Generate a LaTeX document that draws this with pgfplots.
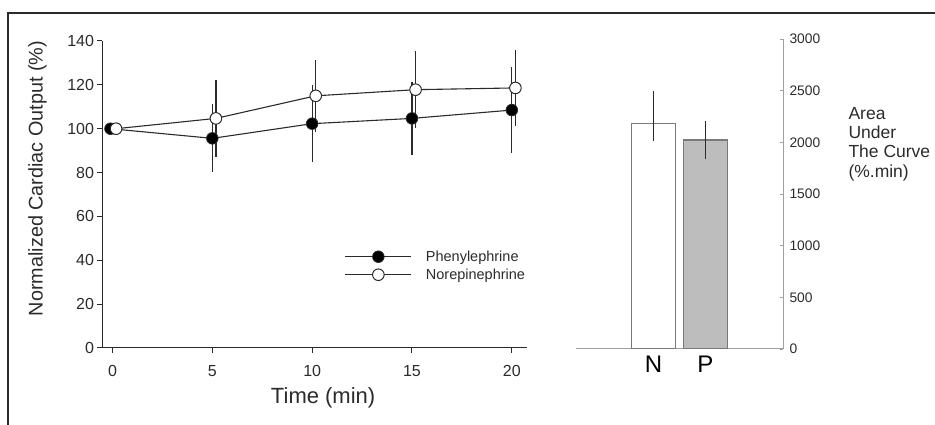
\documentclass[border=0pt]{standalone}
\usepackage{fontspec}
\setmainfont{Liberation Sans}
\usepackage{pgfplots}
\usepackage{pgfplotstable}
\pgfplotsset{compat=1.18}

\definecolor{ln}{HTML}{2B2B2B}
\definecolor{barfill}{HTML}{BDBDBD}
\definecolor{baredge}{HTML}{7A7A7A}
\definecolor{axgray}{HTML}{A0A0A0}

\pgfplotstableread{
x y e
-0.1 100 0
5 95.6 15.5
10 102.3 17.5
15 104.7 16.5
20 108.5 19.5
}\phen
\pgfplotstableread{
x y e
0.18 100 0
5.18 104.7 17.6
10.18 115 16.4
15.18 117.8 17.5
20.18 118.6 17.5
}\nor
\pgfplotstableread{
x y ep em
1 2180 315 165
}\aucN
\pgfplotstableread{
x y ep em
2 2023 187 187
}\aucP

\begin{document}
\begin{tikzpicture}
\path[use as bounding box] (0,0) rectangle (935pt,425pt);
\draw[line width=2pt, color=ln] (935pt,411.7pt) -- (7.9pt,411.7pt) -- (7.9pt,0pt);

\begin{axis}[
 at={(102.5pt,77pt)}, anchor=south west,
 scale only axis, width=424.3pt, height=307pt,
 xmin=-0.5, xmax=20.75, ymin=0, ymax=140,
 axis lines=left, axis line style={-, color=ln, line width=1pt},
 xtick={0,5,10,15,20}, ytick={0,20,...,140},
 tick align=outside, major tick length=5pt,
 tick style={color=ln, line width=1pt},
 /pgf/number format/assume math mode=true,
 ticklabel style={font=\fontsize{16}{19}\selectfont, color=ln},
 xticklabel style={yshift=-9pt},
 xlabel={Time (min)}, ylabel={Normalized Cardiac Output (\%)},
 xlabel style={font=\fontsize{22}{26}\selectfont, color=ln, at={(axis description cs:0.52,-0.163)}, anchor=center},
 ylabel style={font=\fontsize{19.8}{23}\selectfont, color=ln, at={(axis description cs:-0.153,0.552)}, anchor=center},
 legend style={at={(axis description cs:0.5706,0.268)}, anchor=west, draw=none, fill=none,
   nodes={font=\fontsize{14.5}{17}\selectfont, text=ln},
   row sep=2pt, inner sep=0pt, cells={anchor=west},
   /tikz/every odd column/.append style={column sep=12pt}},
 legend image code/.code={\draw[mark repeat=2,mark phase=2,#1] plot coordinates {(0pt,0pt) (33pt,0pt) (66pt,0pt)};},
]
\addplot[color=ln, line width=1.1pt, mark=*, mark size=5.8pt,
  mark options={fill=black, draw=ln, line width=0.8pt, solid},
  error bars/.cd, y dir=both, y explicit, error mark=none,
  error bar style={line width=1.2pt, solid, color=ln}]
  table[x=x, y=y, y error=e]{\phen};
\addlegendentry{\fontsize{14.5}{17}\selectfont Phenylephrine}
\addplot[color=ln, line width=1.1pt, mark=*, mark size=5.8pt,
  mark options={fill=white, draw=ln, line width=1pt, solid},
  error bars/.cd, y dir=both, y explicit, error mark=none,
  error bar style={line width=1.2pt, solid, color=ln}]
  table[x=x, y=y, y error=e]{\nor};
\addlegendentry{\fontsize{14.5}{17}\selectfont Norepinephrine}
\end{axis}

\begin{axis}[
 at={(576pt,76pt)}, anchor=south west,
 scale only axis, width=207pt, height=310pt,
 xmin=-0.5, xmax=3.5, ymin=0, ymax=3000,
 axis y line=right, axis x line=bottom,
 axis line style={-, color=axgray, line width=1pt},
 xtick={1,2}, xticklabels={N,P},
 x tick style={draw=none},
 ytick={0,500,...,3000},
 tick align=inside, major tick length=3pt,
 y tick style={color=axgray, line width=0.8pt},
 /pgf/number format/assume math mode=true,
 /pgf/number format/1000 sep={},
 yticklabel style={font=\fontsize{13.8}{16}\selectfont, color=ln, xshift=3pt},
 xticklabel style={font=\fontsize{24}{28}\selectfont, color=black, yshift=-3pt},
 ylabel={Area\\Under\\The Curve\\(\%.min)},
 ylabel style={rotate=-90, at={(axis description cs:1.2995,0.661)}, anchor=west, align=left,
   font=\fontsize{17.5}{19.4}\selectfont, color=ln},
]
\addplot[ybar, bar width=44.5pt, bar shift=0pt, fill=white, draw=baredge, line width=1.2pt,
  error bars/.cd, y dir=both, y explicit, error mark=none,
  error bar style={line width=1.2pt, color=ln}]
  table[x=x, y=y, y error plus=ep, y error minus=em]{\aucN};
\addplot[ybar, bar width=44.5pt, bar shift=0pt, fill=barfill, draw=baredge, line width=1.2pt,
  error bars/.cd, y dir=both, y explicit, error mark=none,
  error bar style={line width=1.2pt, color=ln}]
  table[x=x, y=y, y error plus=ep, y error minus=em]{\aucP};
\end{axis}
\end{tikzpicture}
\end{document}
